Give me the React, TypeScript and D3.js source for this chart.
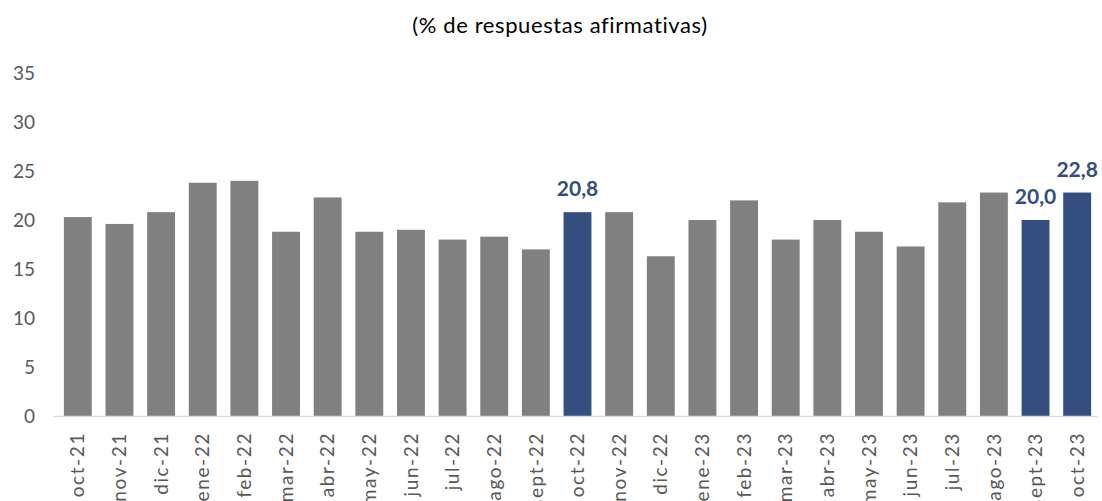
import { useRef, useEffect } from 'react';
import * as d3 from 'd3';

const months = [
  'oct-21', 'nov-21', 'dic-21', 'ene-22', 'feb-22', 'mar-22', 'abr-22', 'may-22', 'jun-22',
  'jul-22', 'ago-22', 'sept-22', 'oct-22', 'nov-22', 'dic-22', 'ene-23', 'feb-23', 'mar-23',
  'abr-23', 'may-23', 'jun-23', 'jul-23', 'ago-23', 'sept-23', 'oct-23',
];
const values = [
  20.3, 19.6, 20.8, 23.8, 24.0, 18.8, 22.3, 18.8, 19.0, 18.0, 18.3, 17.0, 20.8,
  20.8, 16.3, 20.0, 22.0, 18.0, 20.0, 18.8, 17.3, 21.8, 22.8, 20.0, 22.8,
];
// highlighted months get the blue fill and a value label
const highlighted = ['oct-22', 'sept-23', 'oct-23'];
const yTicks = [0, 5, 10, 15, 20, 25, 30, 35];
const title = '(% de respuestas afirmativas)';

const W = 1102;
const H = 501;
const GREY = '#808080';
const BLUE = '#344e80';
const TEXT = '#595959';
const FONT = 'Lato, "Open Sans", sans-serif';

export default function App() {
  const svgRef = useRef<SVGSVGElement>(null);

  useEffect(() => {
    if (!svgRef.current) return;
    const svg = d3.select(svgRef.current);
    svg.selectAll('*').remove();

    const margin = { top: 73, right: 4, bottom: 85, left: 57 };

    const x = d3.scaleBand<string>()
      .domain(months)
      .range([margin.left, W - margin.right])
      .paddingInner(0.33)
      .paddingOuter(0.165);

    const y = d3.scaleLinear()
      .domain([0, 35])
      .range([H - margin.bottom, margin.top]);

    svg.append('rect').attr('width', W).attr('height', H).attr('fill', '#fff');

    // title
    svg.append('text')
      .attr('x', 560)
      .attr('y', 33)
      .attr('text-anchor', 'middle')
      .attr('font-family', FONT)
      .attr('font-size', 22)
      .attr('letter-spacing', 0.6)
      .attr('fill', '#000')
      .text(title);

    // y tick labels (no axis line)
    svg.append('g')
      .selectAll('text')
      .data(yTicks)
      .enter()
      .append('text')
      .attr('x', 35)
      .attr('y', d => y(d))
      .attr('dy', '0.35em')
      .attr('text-anchor', 'end')
      .attr('font-family', FONT)
      .attr('font-size', 19)
      .attr('fill', TEXT)
      .text(d => d);

    // bars
    svg.append('g')
      .selectAll('rect')
      .data(months)
      .enter()
      .append('rect')
      .attr('x', d => x(d)!)
      .attr('y', (d, i) => y(values[i]))
      .attr('width', x.bandwidth())
      .attr('height', (d, i) => y(0) - y(values[i]))
      .attr('fill', d => (highlighted.includes(d) ? BLUE : GREY));

    // baseline
    svg.append('line')
      .attr('x1', 53)
      .attr('x2', W - margin.right)
      .attr('y1', y(0) + 0.5)
      .attr('y2', y(0) + 0.5)
      .attr('stroke', '#d9d9d9')
      .attr('stroke-width', 1.5);

    // value labels
    svg.append('g')
      .selectAll('text')
      .data(months.filter(m => highlighted.includes(m)))
      .enter()
      .append('text')
      .attr('x', d => x(d)! + x.bandwidth() / 2)
      .attr('y', d => y(values[months.indexOf(d)]) - 16)
      .attr('text-anchor', 'middle')
      .attr('font-family', FONT)
      .attr('font-size', 21)
      .attr('font-weight', 700)
      .attr('fill', BLUE)
      .text(d => values[months.indexOf(d)].toFixed(1).replace('.', ','));

    // x labels, rotated
    svg.append('g')
      .selectAll('text')
      .data(months)
      .enter()
      .append('text')
      .attr('transform', d => `translate(${x(d)! + x.bandwidth() / 2},${y(0) + 16}) rotate(-90)`)
      .attr('dy', '0.35em')
      .attr('text-anchor', 'end')
      .attr('font-family', FONT)
      .attr('font-size', 19)
      .attr('letter-spacing', 1.6)
      .attr('fill', TEXT)
      .text(d => d);
  }, []);

  return (
    <div style={{ position: 'fixed', left: 0, top: 0 }}>
      <svg ref={svgRef} width={W} height={H} />
    </div>
  );
}
